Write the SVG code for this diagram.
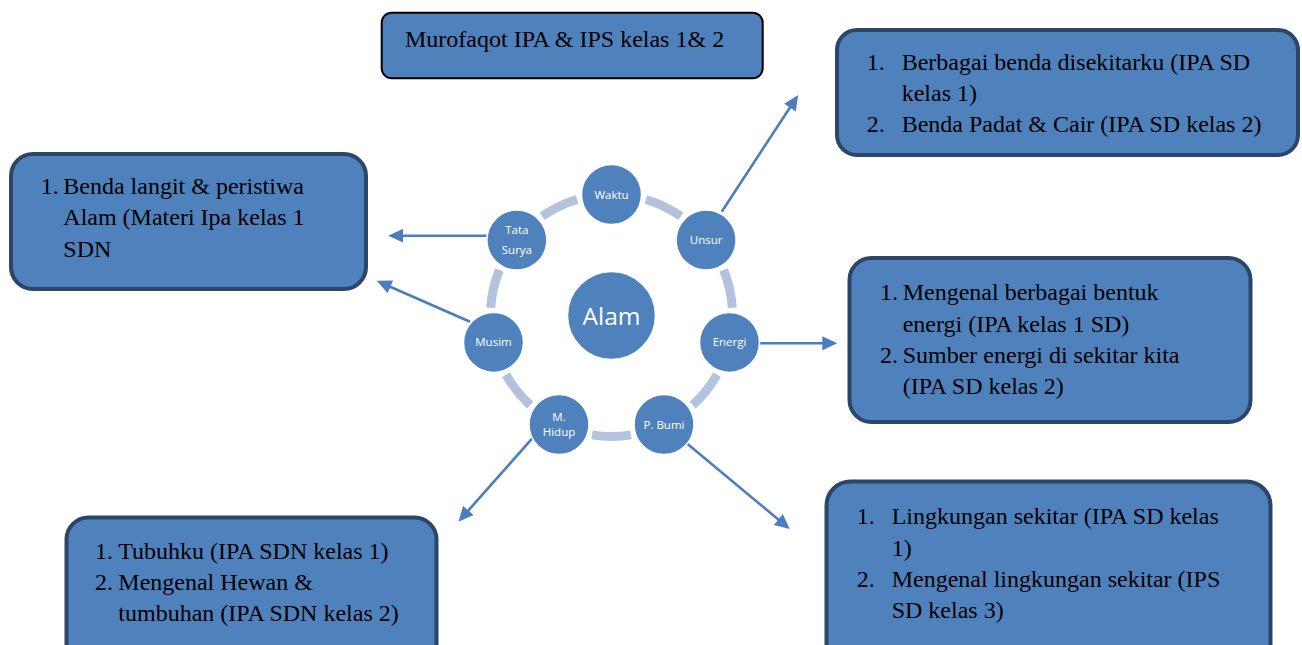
<svg xmlns="http://www.w3.org/2000/svg" width="1302" height="645" viewBox="0 0 1302 645">
<style>
.box{fill:#4f81bd;stroke:#2b4669;stroke-width:4}
.boxk{fill:#4f81bd;stroke:#000;stroke-width:2}
.t{font-family:"Liberation Serif","Times New Roman",serif;font-size:24px;fill:#000}
.node{fill:#4f81bd;stroke:#fff;stroke-width:1.5}
.nt{font-family:"Open Sans",sans-serif;font-size:11.5px;fill:#fff;text-anchor:middle}
.ring{fill:none;stroke:#b3c2dd;stroke-width:9}
.arr{stroke:#4a7ebe;stroke-width:2.6;fill:none;marker-end:url(#ah)}
</style>
<defs>
<marker id="ah" markerUnits="userSpaceOnUse" markerWidth="16" markerHeight="14" refX="9" refY="7" orient="auto">
<path d="M0,0 L15,7 L0,14 z" fill="#4a7ebe"/>
</marker>
</defs>
<rect width="1302" height="645" fill="#fff"/>

<g id="ring">
<path class="ring" d="M645.9,199.5 A121,121 0 0 1 680.8,216.3"/>
<path class="ring" d="M723.6,270.0 A121,121 0 0 1 732.3,307.8"/>
<path class="ring" d="M717.0,374.8 A121,121 0 0 1 692.8,405.1"/>
<path class="ring" d="M630.9,434.9 A121,121 0 0 1 592.1,434.9"/>
<path class="ring" d="M530.2,405.1 A121,121 0 0 1 506.0,374.8"/>
<path class="ring" d="M490.7,307.8 A121,121 0 0 1 499.4,270.0"/>
<path class="ring" d="M542.2,216.3 A121,121 0 0 1 577.1,199.5"/>
</g>

<g id="connectors">
<line class="arr" x1="721.7" y1="211.7" x2="794.9" y2="100"/>
<line class="arr" x1="490" y1="235.7" x2="394.3" y2="235.7"/>
<line class="arr" x1="470" y1="321.7" x2="382.2" y2="283.2"/>
<line class="arr" x1="760" y1="343.3" x2="831.3" y2="343.3"/>
<line class="arr" x1="536.7" y1="433.3" x2="462.4" y2="517.2"/>
<line class="arr" x1="686.7" y1="443.3" x2="785.2" y2="525.2"/>
</g>

<g id="alam">
<circle class="node" cx="611.5" cy="315.5" r="44"/>
<text class="nt" x="611.5" y="324.5" style="font-size:24.5px">Alam</text>
</g>
<g id="waktu">
<circle class="node" cx="611.5" cy="194.5" r="30"/>
<text class="nt" x="611.5" y="198.5">Waktu</text>
</g>
<g id="unsur">
<circle class="node" cx="706.1" cy="240.1" r="30"/>
<text class="nt" x="706.1" y="244.1">Unsur</text>
</g>
<g id="energi">
<circle class="node" cx="729.5" cy="342.4" r="30"/>
<text class="nt" x="729.5" y="346.4">Energi</text>
</g>
<g id="pbumi">
<circle class="node" cx="664" cy="424.5" r="30"/>
<text class="nt" x="664" y="428.5">P. Bumi</text>
</g>
<g id="mhidup">
<circle class="node" cx="559" cy="424.5" r="30"/>
<text class="nt" x="559" y="421">M.</text>
<text class="nt" x="559" y="436">Hidup</text>
</g>
<g id="musim">
<circle class="node" cx="493.5" cy="342.4" r="30"/>
<text class="nt" x="493.5" y="346.4">Musim</text>
</g>
<g id="tatasurya">
<circle class="node" cx="516.9" cy="240.1" r="30"/>
<text class="nt" x="516.9" y="234">Tata</text>
<text class="nt" x="516.9" y="254">Surya</text>
</g>

<g id="judul">
<rect class="boxk" x="381.7" y="12.7" width="381" height="65.6" rx="10"/>
<text class="t" x="405" y="47">Murofaqot IPA &amp; IPS kelas 1&amp; 2</text>
</g>

<g id="box-unsur">
<rect class="box" x="837" y="30" width="461" height="125" rx="20"/>
<text class="t" x="866.7" y="70">1.</text>
<text class="t" x="901.7" y="70">Berbagai benda disekitarku (IPA SD</text>
<text class="t" x="901.7" y="101">kelas 1)</text>
<text class="t" x="866.7" y="132">2.</text>
<text class="t" x="901.7" y="132">Benda Padat &amp; Cair (IPA SD kelas 2)</text>
</g>

<g id="box-tatasurya">
<rect class="box" x="11" y="154" width="355" height="135" rx="22"/>
<text class="t" x="40.7" y="194">1.</text>
<text class="t" x="63.3" y="194">Benda langit &amp; peristiwa</text>
<text class="t" x="63.3" y="225">Alam (Materi Ipa kelas 1</text>
<text class="t" x="63.3" y="256.5">SDN</text>
</g>

<g id="box-energi">
<rect class="box" x="849.5" y="258" width="401" height="164" rx="22"/>
<text class="t" x="880" y="300">1.</text>
<text class="t" x="902.7" y="300">Mengenal berbagai bentuk</text>
<text class="t" x="902.7" y="331.5">energi (IPA kelas 1 SD)</text>
<text class="t" x="880" y="362.5">2.</text>
<text class="t" x="902.7" y="362.5">Sumber energi di sekitar kita</text>
<text class="t" x="902.7" y="394">(IPA SD kelas 2)</text>
</g>

<g id="box-mhidup">
<rect class="box" x="66.5" y="517.5" width="370" height="160" rx="22"/>
<text class="t" x="95" y="559">1.</text>
<text class="t" x="118.3" y="559">Tubuhku (IPA SDN kelas 1)</text>
<text class="t" x="95" y="590">2.</text>
<text class="t" x="118.3" y="590">Mengenal Hewan &amp;</text>
<text class="t" x="118.3" y="621">tumbuhan (IPA SDN kelas 2)</text>
</g>

<g id="box-pbumi">
<rect class="box" x="826.5" y="481.5" width="444" height="200" rx="24"/>
<text class="t" x="856.7" y="524">1.</text>
<text class="t" x="891.7" y="524">Lingkungan sekitar (IPA SD kelas</text>
<text class="t" x="891.7" y="556">1)</text>
<text class="t" x="856.7" y="587">2.</text>
<text class="t" x="891.7" y="587">Mengenal lingkungan sekitar (IPS</text>
<text class="t" x="891.7" y="618">SD kelas 3)</text>
</g>
</svg>
